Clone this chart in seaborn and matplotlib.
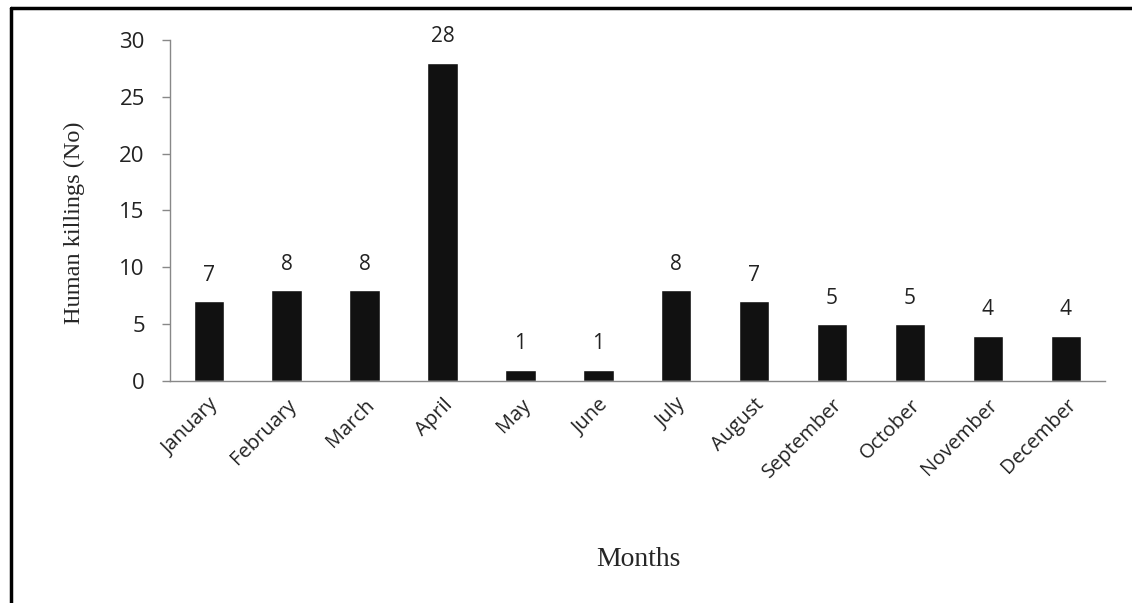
import matplotlib
matplotlib.use("Agg")
import matplotlib.pyplot as plt
import seaborn as sns
import pandas as pd
from matplotlib.lines import Line2D

# dati
months = ['January', 'February', 'March', 'April', 'May', 'June',
          'July', 'August', 'September', 'October', 'November', 'December']
killings = [7, 8, 8, 28, 1, 1, 8, 7, 5, 5, 4, 4]
y_ticks = [0, 5, 10, 15, 20, 25, 30]

df = pd.DataFrame({'month': months, 'killings': killings})

sns.set_style('white')
plt.rcParams['font.family'] = ['Open Sans', 'DejaVu Sans']

fig = plt.figure(figsize=(11.32, 6.03), dpi=100)
ax = fig.add_axes([0.150, 0.368, 0.826, 0.566])

sns.barplot(data=df, x='month', y='killings', color='#111111', width=0.39,
            saturation=1, ax=ax)

for i, v in enumerate(killings):
    ax.text(i, v + 1.35, str(v), ha='center', va='bottom', fontsize=15, color='#222222')

ax.set_ylim(0, 30)
ax.set_xlim(-0.5, 11.5)
ax.set_yticks(y_ticks)
ax.tick_params(axis='y', labelsize=16, length=6, width=1, color='#888888',
               direction='out', left=True, pad=12, labelcolor='#222222')
ax.tick_params(axis='x', labelsize=14.5, length=0, pad=10, labelcolor='#222222')
plt.setp(ax.get_xticklabels(), rotation=45, ha='right', rotation_mode='anchor')

for s in ['top', 'right']:
    ax.spines[s].set_visible(False)
for s in ['left', 'bottom']:
    ax.spines[s].set_color('#888888')
    ax.spines[s].set_linewidth(1)

ax.set_xlabel('Months', family='Liberation Serif', fontsize=20)
ax.xaxis.set_label_coords(0.501, -0.485)
ax.set_ylabel('Human killings (No)', family='Liberation Serif', fontsize=17.5)
ax.yaxis.set_label_coords(-0.091, 0.465)

# cornice nera a sinistra e in alto
fig.add_artist(Line2D([0.0098, 0.0098], [0.0, 0.986], transform=fig.transFigure,
                      color='black', linewidth=2.5))
fig.add_artist(Line2D([0.0098, 1.0], [0.986, 0.986], transform=fig.transFigure,
                      color='black', linewidth=2.5))

fig.savefig('out.png', dpi=100)
